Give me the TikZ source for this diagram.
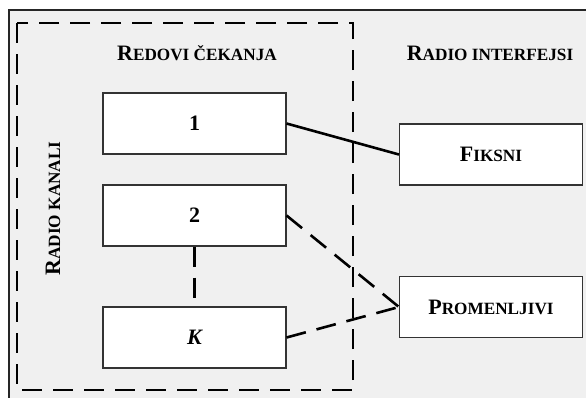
\documentclass[tikz,border=0pt]{standalone}
\usepackage{fontspec}
\setmainfont{Liberation Serif}
\usepackage{xcolor}
\definecolor{panel}{HTML}{F0F0F0}
\definecolor{edge}{HTML}{333333}
\usepackage{tikz}
\usetikzlibrary{positioning}
\newcommand{\bigsc}{\fontsize{22}{26}\selectfont\bfseries}
\newcommand{\smallsc}{\fontsize{17.2}{20}\selectfont\bfseries}
\newcommand{\capsc}[2]{{\bigsc #1\smallsc #2}}
\tikzset{
  queue/.style ={ font=\bigsc, rectangle, draw=edge, fill=white, line width=1.1pt,
                  inner sep=0pt, minimum width=183pt, minimum height=61pt },
  iface/.style ={ queue },
  heading/.style={ inner sep=0pt, anchor=base },
  frame/.style ={ draw=black!85, fill=panel, line width=1.3pt },
  group/.style ={ draw=black, line width=2.6pt, dash pattern=on 20pt off 11pt },
  link/.style  ={ draw=black, line width=2.6pt },
  optlink/.style={ draw=black, line width=2.6pt, dash pattern=on 20pt off 11pt }
}

\begin{document}
\begin{tikzpicture}[x=1pt,y=-1pt]
        \clip (0,0) rectangle (586,397);
        \draw[frame] (9,10) rectangle (600,410);
        \draw[group] (17,23) rectangle (353,390);
        % naslovi
        \node[heading] (redovi) at (197,60) {\capsc{R}{EDOVI ČEKANJA}};
        \node[heading] (interf) at (490,60) {\capsc{R}{ADIO INTERFEJSI}};
        \node[heading,rotate=90] (kanali) at (60,208.5) {\capsc{R}{ADIO KANALI}};
        % redovi
        \node[queue] (q1) at (194.5,123.5) {1};
        \node[queue] (q2) at (194.5,215.5) {2};
        \node[queue] (qk) at (194.5,337.5) {\itshape K};
        % interfejsi
        \node[iface] (fiksni) at (491,154.5) {\capsc{F}{IKSNI}};
        \node[iface] (prom) at (491,307) {\capsc{P}{ROMENLJIVI}};
        \draw[link] (q1.east) -- (fiksni.west);
        \draw[optlink] (q2.east) -- (prom.west);
        \draw[optlink] (qk.east) -- (prom.west);
        \draw[optlink] (q2.south) -- (qk.north);
      \end{tikzpicture}
\end{document}
